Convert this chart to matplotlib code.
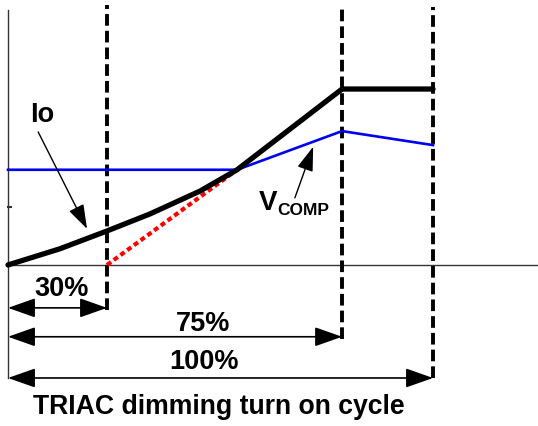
import matplotlib.pyplot as plt

plt.rcParams['font.family'] = ['Liberation Sans', 'DejaVu Sans']

# schematic units: origin at the axes crossing, 100 = the "100%" mark
io_x = [0, 12.2, 23.3, 33.4, 45.2, 53.9, 78.6, 100]
io_y = [0, 3.8, 8.0, 12.0, 17.4, 22.4, 41.4, 41.4]
vcomp_x = [0, 53.9, 78.6, 100]
vcomp_y = [22.4, 22.4, 31.5, 28.2]
red_x = [23.3, 53.9]
red_y = [0, 22.4]

marks = [23.3, 78.6, 100]           # x positions of the dashed lines
mark_labels = ["30%", "75%", "100%"]
mark_top = [61.2, 60.5, 60.7]
mark_bottom = [-10.6, -17.4, -26.6]
arrow_y = [-10.1, -16.9, -26.6]
label_y = [-5.7, -13.8, -22.8]
label_x = [12.7, 45.9, 46.1]

fig = plt.figure(figsize=(5.38, 4.26), dpi=100)
ax = fig.add_axes([0, 0, 1, 1])
ax.set_xlim(-1.88, 124.7)
ax.set_ylim(-37.9, 62.35)
ax.axis("off")

# axes
ax.plot([0, 0], [-26.6, 60], color="#333333", lw=1.0)
ax.plot([0, 124.7], [0, 0], color="#333333", lw=1.0)
ax.plot([0, 0.6], [13.6, 13.6], color="#333333", lw=1.5)

# dashed marker lines
for x, t, b in zip(marks, mark_top, mark_bottom):
    ln, = ax.plot([x, x], [b, t], color="black", lw=2.8)
    ln.set_dashes((3.0, 1.3))

ax.plot(vcomp_x, vcomp_y, color="#0000ee", lw=1.9)
ax.plot(red_x, red_y, color="#ff0000", lw=3.0, linestyle=(0, (1.2, 0.8)))
ax.plot(io_x, io_y, color="black", lw=3.8, solid_capstyle="round")

# width arrows
for x, y in zip(marks, arrow_y):
    ax.annotate("", xy=(x, y), xytext=(0, y),
                arrowprops=dict(arrowstyle="<|-|>,head_length=1.7,head_width=0.6",
                                color="black", lw=1.2, shrinkA=0, shrinkB=0))
for x, y, s in zip(label_x, label_y, mark_labels):
    ax.text(x, y, s, ha="center", va="center", fontsize=19.5, fontweight="bold")

ax.text(49.6, -33.5, "TRIAC dimming turn on cycle", ha="center", va="center",
        fontsize=19.2, fontweight="bold")

# curve labels
ax.text(8.0, 35.3, "Io", ha="center", va="center", fontsize=19.5, fontweight="bold")
ax.annotate("", xy=(18.6, 8.5), xytext=(7.1, 31.3),
            arrowprops=dict(arrowstyle="-|>,head_length=1.5,head_width=0.5",
                            color="black", lw=1.0, shrinkA=0, shrinkB=0))
ax.text(61.2, 14.6, "V", ha="center", va="center", fontsize=20, fontweight="bold")
ax.text(63.4, 12.8, "COMP", ha="left", va="center", fontsize=12.5, fontweight="bold")
ax.annotate("", xy=(71.8, 27.8), xytext=(67.5, 15.8),
            arrowprops=dict(arrowstyle="-|>,head_length=1.5,head_width=0.5",
                            color="black", lw=1.0, shrinkA=0, shrinkB=0))

fig.savefig("out.png", dpi=100)
